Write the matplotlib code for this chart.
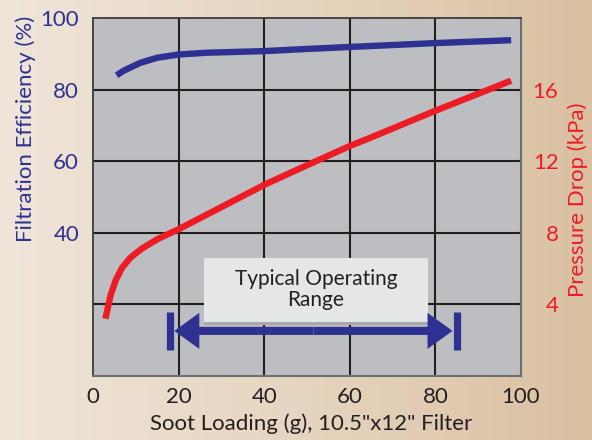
import numpy as np
import matplotlib
matplotlib.use("Agg")
import matplotlib.pyplot as plt
from matplotlib.colors import LinearSegmentedColormap
from matplotlib.patches import Rectangle

plt.rcParams['font.family'] = ['Lato', 'DejaVu Sans']

# ==== DATA ====
soot_eff = [5.5, 7.2, 11.1, 15.0, 20.0, 26.6, 40.0, 50.7, 80.1, 97.7]
efficiency = [84.0, 85.3, 87.5, 88.9, 89.8, 90.3, 90.75, 91.4, 93.0, 93.8]

soot_dp = [2.9, 4.1, 5.3, 6.8, 8.7, 11.3, 15.1, 20.0, 30.5, 40.2, 48.4, 60.0, 64.7, 79.8, 97.7]
pressure_drop = [3.2, 4.5, 5.35, 6.05, 6.6, 7.1, 7.65, 8.2, 9.5, 10.7, 11.6, 12.85, 13.3, 14.8, 16.5]

x_ticks = [0, 20, 40, 60, 80, 100]
eff_ticks = [40, 60, 80, 100]
dp_ticks = [4, 8, 12, 16]

range_lo, range_hi = 18, 85
range_level = 12.6
range_text = "Typical Operating\nRange"

BLUE = "#2e3192"
RED = "#ed1c24"
DARK = "#231f20"

# ==== FIGURE ====
fig = plt.figure(figsize=(5.92, 4.40), dpi=100)

# background gradient
bg = fig.add_axes([0, 0, 1, 1], zorder=-5)
cmap = LinearSegmentedColormap.from_list("bg", ["#efe5d9", "#e6d5c0", "#dac0a1"])
bg.imshow(np.linspace(0, 1, 256)[None, :], aspect="auto", cmap=cmap, extent=[0, 1, 0, 1])
bg.axis("off")

ax = fig.add_axes([93/592, 64/440, 428/592, 358/440])
ax.set_facecolor("#bcbec2")
ax.set_xlim(0, 100)
ax.set_ylim(0, 100)

for v in [20, 40, 60, 80]:
    ax.axvline(v, color=DARK, lw=1.5, zorder=1)
    ax.axhline(v, color=DARK, lw=1.5, zorder=1)

ax.plot(soot_eff, efficiency, color=BLUE, lw=4.6, solid_capstyle="butt",
        solid_joinstyle="round", zorder=4)

ax.set_xticks(x_ticks)
ax.set_xticklabels([str(t) for t in x_ticks])
ax.set_yticks(eff_ticks)
ax.set_yticklabels([str(t) for t in eff_ticks])
ax.tick_params(axis="both", length=0, labelsize=16)
ax.tick_params(axis="x", colors=DARK, pad=8)
ax.tick_params(axis="y", colors=BLUE, pad=10)

ax.set_xlabel('Soot Loading (g), 10.5"x12" Filter', fontsize=16, color=DARK)
ax.xaxis.set_label_coords(0.51, -0.104)
ax.set_ylabel("Filtration Efficiency (%)", fontsize=16, color=BLUE)
ax.yaxis.set_label_coords(-0.133, 0.69)

for side in ["top", "left"]:
    ax.spines[side].set_color("#3c3c3c")
    ax.spines[side].set_linewidth(1.3)
for side in ["right", "bottom"]:
    ax.spines[side].set_color("#6d6e71")
    ax.spines[side].set_linewidth(1.5)

# pressure drop on right axis
ax2 = ax.twinx()
ax2.set_ylim(0, 20)
ax2.plot(soot_dp, pressure_drop, color=RED, lw=4.6, solid_capstyle="butt",
         solid_joinstyle="round", zorder=4)
ax2.set_yticks(dp_ticks)
ax2.set_yticklabels([str(t) for t in dp_ticks], ha="right")
ax2.tick_params(axis="y", length=0, labelsize=16, colors=RED, pad=27)
ax2.set_ylabel("Pressure Drop (kPa)", fontsize=16, color=RED)
ax2.yaxis.set_label_coords(1.108, 0.493)
for side in ax2.spines:
    ax2.spines[side].set_visible(False)

# typical operating range box
shadow = Rectangle((25.9, 14.3), 52.4, 18.0, facecolor="#a7a9ac", edgecolor="none", zorder=5)
box = Rectangle((25.9, 15.1), 52.4, 18.0, facecolor="#e5e6e8", edgecolor="none", zorder=6)
ax.add_patch(shadow)
ax.add_patch(box)
ax.text((25.9 + 78.3) / 2, 24.1, range_text, ha="center", va="center",
        fontsize=15, color=DARK, linespacing=1.05, zorder=7)

# double arrow (two sharp heads from the middle) with end bars
mid = (range_lo + range_hi) / 2
for end, inset in [(range_lo, 1.0), (range_hi, -1.0)]:
    ax.annotate("", xy=(end + inset, range_level), xytext=(mid, range_level),
                arrowprops=dict(arrowstyle="simple,head_length=18,head_width=26,tail_width=5.8",
                                mutation_scale=1, lw=0, color=BLUE,
                                shrinkA=0, shrinkB=0),
                zorder=8)
ax.plot([range_lo, range_hi], [range_level, range_level], ls="none", marker="|",
        ms=27, mew=5.2, color=BLUE, zorder=8)

fig.savefig("out.png", dpi=100)
